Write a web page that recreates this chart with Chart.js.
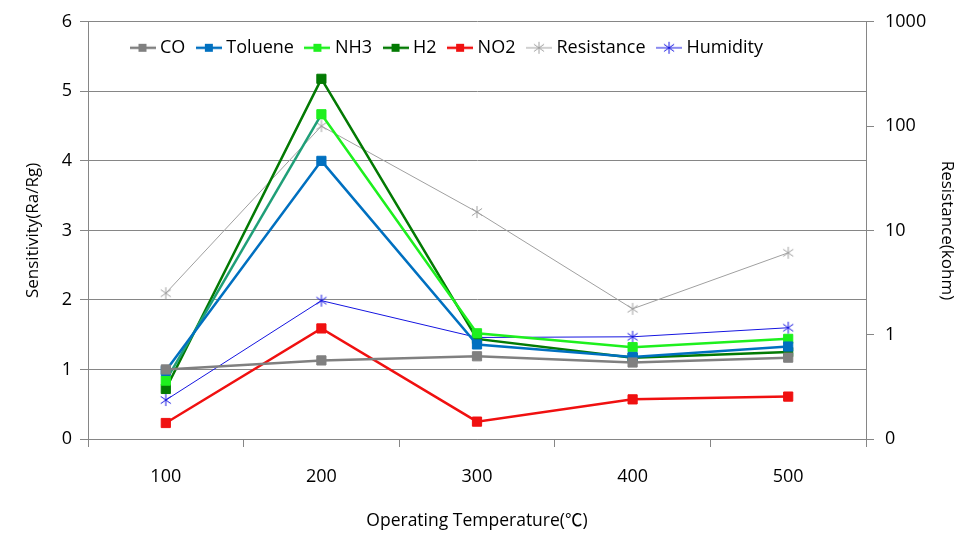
<!DOCTYPE html>
<html>
<head>
<meta charset="utf-8">
<script src="https://cdn.jsdelivr.net/npm/chart.js@4"></script>
<style>
  html, body { margin: 0; padding: 0; background: #fff; }
  #wrap { width: 962px; height: 539px; }
</style>
</head>
<body>
<div id="wrap"><canvas id="sensChart"></canvas></div>
<script>
// -------------------------------
// DATA
// -------------------------------
const temperatures = ['100', '200', '300', '400', '500'];
const co         = [1.00, 1.13, 1.19, 1.10, 1.17];
const toluene    = [0.98, 4.00, 1.36, 1.18, 1.33];
const nh3        = [0.84, 4.67, 1.52, 1.32, 1.44];
const h2         = [0.72, 5.18, 1.44, 1.17, 1.25];
const no2        = [0.23, 1.59, 0.25, 0.57, 0.61];
const resistance = [2.5, 100, 15, 1.77, 6.1];   // kohm, right log axis
const humidity   = [0.56, 1.99, 1.46, 1.47, 1.60];

const resistanceTicks = [0.1, 1, 10, 100, 1000];
const resistanceTickLabels = ['0', '1', '10', '100', '1000'];

const FONT = "'Open Sans', 'Noto Sans CJK KR', sans-serif";
const AXIS_GRAY = '#868686';

// asterisk marker (X + vertical bar), like Excel's star marker
function starMarker(color, r) {
    const s = 2 * r + 2;
    const c = document.createElement('canvas');
    c.width = s; c.height = s;
    const g = c.getContext('2d');
    const m = s / 2;
    g.strokeStyle = color;
    g.lineWidth = 1;
    g.beginPath();
    g.moveTo(m - r * 0.85, m - r * 0.6); g.lineTo(m + r * 0.85, m + r * 0.6);
    g.moveTo(m + r * 0.85, m - r * 0.6); g.lineTo(m - r * 0.85, m + r * 0.6);
    g.moveTo(m, m - r); g.lineTo(m, m + r);
    g.stroke();
    return c;
}

// legend icon: short line with the marker in the middle
function legendIcon(color, marker, lw) {
    const c = document.createElement('canvas');
    c.width = 26; c.height = 14;
    const g = c.getContext('2d');
    g.strokeStyle = color;
    g.lineWidth = lw;
    g.beginPath(); g.moveTo(0, 7); g.lineTo(26, 7); g.stroke();
    if (marker === 'rect') {
        g.fillStyle = color;
        g.fillRect(9, 3, 8, 8);
    } else {
        g.drawImage(starMarker(color, 6), 13 - 7, 7 - 7);
    }
    return c;
}

function squareSeries(label, data, color, extra) {
    return Object.assign({
        label, data,
        yAxisID: 'y',
        borderColor: color,
        backgroundColor: color,
        borderWidth: 2.5,
        pointStyle: 'rect',
        pointRadius: 6.5,
        pointBorderWidth: 1,
        pointBackgroundColor: color,
        pointBorderColor: color,
        tension: 0,
        legendIcon: legendIcon(color, 'rect', 2.5)
    }, extra || {});
}

function starSeries(label, data, color, axis) {
    return {
        label, data,
        yAxisID: axis,
        borderColor: color,
        backgroundColor: color,
        borderWidth: 1,
        pointStyle: starMarker(color, 6),
        pointRadius: 6,
        tension: 0,
        legendIcon: legendIcon(color, 'star', 1)
    };
}

const datasets = [
    squareSeries('CO', co, '#808080'),
    squareSeries('Toluene', toluene, '#0070C0'),
    squareSeries('NH3', nh3, '#1EF01E', {
        segment: { borderColor: c => c.p0DataIndex === 0 ? '#1F9F78' : undefined }
    }),
    squareSeries('H2', h2, '#037A03'),
    squareSeries('NO2', no2, '#F01010'),
    starSeries('Resistance', resistance, '#A0A0A0', 'y1'),
    starSeries('Humidity', humidity, '#1515E0', 'y')
];

// legend sits inside the plot in one row, a little in from the corner
const legendInPlot = {
    id: 'legendInPlot',
    beforeLayout(chart) {
        chart.legend.isHorizontal = () => true;
    },
    afterLayout(chart) {
        const area = chart.chartArea;
        chart.legend.left = area.left + 31;
        chart.legend.right = area.right;
        chart.legend.top = area.top + 2;
    }
};

Chart.defaults.font.family = FONT;
Chart.defaults.color = '#000';

new Chart(document.getElementById('sensChart'), {
    type: 'line',
    data: { labels: temperatures, datasets },
    plugins: [legendInPlot],
    options: {
        responsive: true,
        maintainAspectRatio: false,
        animation: false,
        layout: { padding: { top: 18, left: 0, right: 0, bottom: 0 } },
        plugins: {
            tooltip: { enabled: false },
            legend: {
                position: 'chartArea',
                align: 'start',
                labels: {
                    usePointStyle: true,
                    pointStyleWidth: 17,
                    padding: 15,
                    color: '#000',
                    font: { size: 18 },
                    generateLabels(chart) {
                        const items = Chart.defaults.plugins.legend.labels.generateLabels(chart);
                        items.forEach(it => {
                            it.pointStyle = chart.data.datasets[it.datasetIndex].legendIcon;
                        });
                        return items;
                    }
                }
            }
        },
        scales: {
            x: {
                offset: true,
                grid: { offset: true, drawOnChartArea: false, tickLength: 8, color: AXIS_GRAY },
                border: { color: AXIS_GRAY },
                ticks: { font: { size: 18 }, padding: 19 },
                title: {
                    display: true,
                    text: 'Operating Temperature(℃)',
                    font: { size: 17.5 },
                    padding: { top: 0, bottom: 7 }
                },
                afterFit(s) { s.height = 100; }
            },
            y: {
                position: 'left',
                min: 0,
                max: 6,
                ticks: { stepSize: 1, font: { size: 18 }, padding: 8 },
                grid: { color: AXIS_GRAY, tickLength: 8 },
                border: { color: AXIS_GRAY },
                title: {
                    display: true,
                    text: 'Sensitivity(Ra/Rg)',
                    font: { size: 17 },
                    padding: { top: 23, bottom: 0 }
                },
                afterFit(s) { s.width = 88; }
            },
            y1: {
                type: 'logarithmic',
                position: 'right',
                min: 0.1,
                max: 1000,
                afterBuildTicks(s) {
                    s.ticks = resistanceTicks.map(v => ({ value: v }));
                },
                ticks: {
                    font: { size: 18 },
                    padding: 11,
                    callback: v => resistanceTickLabels[resistanceTicks.indexOf(v)]
                },
                grid: { drawOnChartArea: false, tickLength: 8, color: AXIS_GRAY },
                border: { color: AXIS_GRAY },
                title: {
                    display: true,
                    text: 'Resistance(kohm)',
                    font: { size: 17 },
                    padding: { top: 5, bottom: 0 }
                },
                afterFit(s) { s.width = 96; }
            }
        }
    }
});
</script>
</body>
</html>
